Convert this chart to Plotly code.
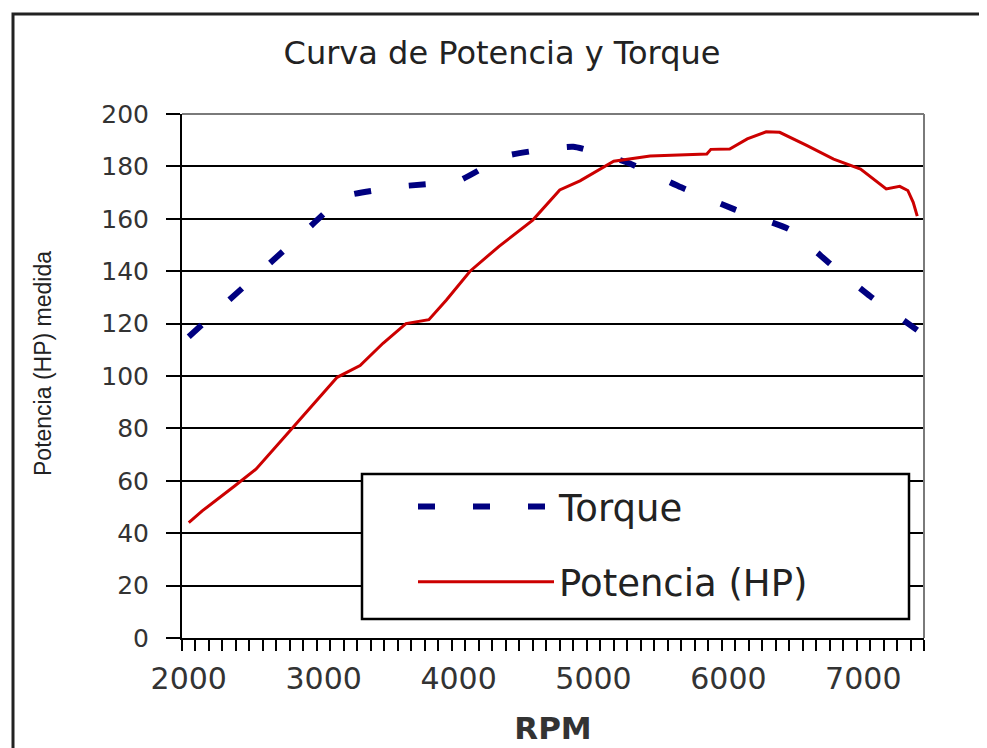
import plotly.graph_objects as go

# ---- data ----
torque_rpm = [2000, 2300, 2600, 2900, 3150, 3600, 4000, 4350, 4850, 5250,
              5650, 6050, 6450, 6750, 7050, 7400]
torque_val = [115, 129, 143, 157, 168.5, 172.5, 174.5, 184, 187.5, 181.5,
              172, 163.5, 156, 143, 130.5, 117.5]

power_rpm = [2000, 2100, 2340, 2500, 2775, 2975, 3100, 3270, 3440, 3610,
             3780, 3910, 4085, 4300, 4550, 4750, 4900, 5150, 5420, 5840,
             5870, 6010, 6140, 6280, 6380, 6580, 6780, 6980, 7170, 7270,
             7330, 7370, 7400]
power_val = [44, 48.5, 58, 64.5, 80.5, 92, 99.5, 104, 112.5, 120,
             121.5, 129, 140, 149.5, 159.5, 171, 174.5, 182, 184, 184.7,
             186.5, 186.6, 190.5, 193.2, 193, 188, 182.8, 179, 171.4, 172.4,
             170.8, 166.3, 161]

x_tickvals = [2000, 3000, 4000, 5000, 6000, 7000]
x_ticktext = ["2000", "3000", "4000", "5000", "6000", "7000"]
y_tickvals = [0, 20, 40, 60, 80, 100, 120, 140, 160, 180, 200]

title_text = "Curva de Potencia y Torque"
x_title = "RPM"
y_title = "Potencia (HP) medida"

W, H = 987, 748
OFF = 8  # page body margin
# plot area in page pixels
L, R, T, B = 182, 924, 114, 638


def px_x(p):
    return (p - L) / (R - L)


def px_y(p):
    return (B - p) / (B - T)


fig = go.Figure()
fig.add_trace(go.Scatter(
    x=torque_rpm, y=torque_val, name="Torque", mode="lines",
    line=dict(color="#000080", width=6, dash="17px,38px", shape="spline", smoothing=0.4),
    legendgroup="a",
))
fig.add_trace(go.Scatter(
    x=power_rpm, y=power_val, name="Potencia (HP)", mode="lines",
    line=dict(color="#CC0000", width=3),
    legendgroup="b",
))

shapes = [
    # outer chart frame
    dict(type="rect", xref="paper", yref="paper",
         x0=px_x(13), x1=px_x(1010), y0=px_y(770), y1=px_y(14),
         line=dict(color="#222", width=3), fillcolor="rgba(0,0,0,0)", layer="below"),
    # plot-area border (top and right, grey)
    dict(type="line", xref="paper", yref="paper", x0=0, x1=1, y0=1, y1=1,
         line=dict(color="#7a7a7a", width=2), layer="above"),
    dict(type="line", xref="paper", yref="paper", x0=1, x1=1, y0=0, y1=1,
         line=dict(color="#7a7a7a", width=2), layer="above"),
    # legend box
    dict(type="rect", xref="paper", yref="paper",
         x0=px_x(362), x1=px_x(909), y0=px_y(619), y1=px_y(474),
         line=dict(color="black", width=2.5), fillcolor="white", layer="above"),
]

fig.update_layout(
    width=W, height=H,
    margin=dict(l=L - OFF, r=W - (R - OFF), t=T - OFF, b=H - (B - OFF), pad=0),
    paper_bgcolor="white", plot_bgcolor="white",
    title=dict(text=title_text, x=(502 - OFF) / W, xanchor="center",
               y=1 - (53 - OFF) / H, yanchor="middle", yref="container",
               font=dict(family="DejaVu Sans", size=32, color="#222")),
    showlegend=True,
    legend=dict(x=px_x(413), xanchor="left", y=px_y(476), yanchor="top",
                bgcolor="rgba(0,0,0,0)", borderwidth=0,
                font=dict(family="DejaVu Sans", size=37, color="#222"),
                itemwidth=136, traceorder="grouped", tracegroupgap=24),
    shapes=shapes,
    annotations=[
        dict(text=y_title, xref="paper", yref="paper",
             x=px_x(43), y=px_y(364), xanchor="center", yanchor="middle",
             textangle=-90, showarrow=False,
             font=dict(family="Liberation Sans", size=23, color="#222")),
    ],
)

fig.update_xaxes(
    range=[1950, 7450], tickvals=x_tickvals, ticktext=x_ticktext,
    ticks="", showgrid=False, zeroline=False,
    showline=True, linecolor="black", linewidth=2,
    tickfont=dict(family="DejaVu Sans", size=30, color="#333"),
    ticklabelstandoff=13,
    minor=dict(tick0=1950, dtick=100, ticks="outside", ticklen=11,
               tickwidth=2, tickcolor="black", showgrid=False),
    title=dict(text="<b>" + x_title + "</b>", standoff=22,
               font=dict(family="DejaVu Sans", size=31, color="#333")),
)
fig.update_yaxes(
    range=[0, 200], tickvals=y_tickvals, ticks="outside", ticklen=14,
    tickwidth=2, tickcolor="black",
    showgrid=True, gridcolor="black", gridwidth=1.5, zeroline=False,
    showline=True, linecolor="black", linewidth=2,
    tickfont=dict(family="DejaVu Sans", size=25, color="#333"),
    ticklabelstandoff=12,
)

fig.write_html("out.html")
